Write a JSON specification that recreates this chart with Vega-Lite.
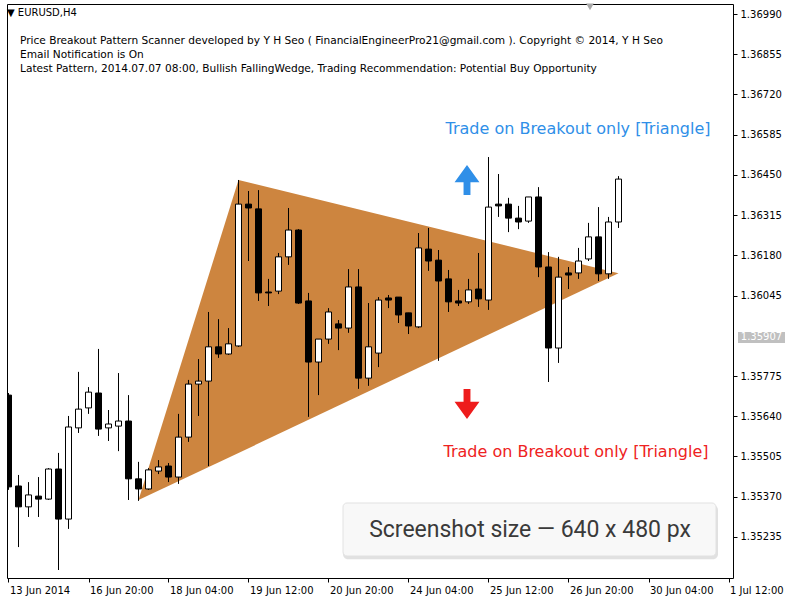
{
  "$schema": "https://vega.github.io/schema/vega-lite/v6.json",
  "width": 726,
  "height": 574,
  "autosize": "none",
  "padding": {"left": 7, "top": 4, "right": 67, "bottom": 22},
  "background": "white",
  "config": {
    "view": {"stroke": "black", "strokeWidth": 1},
    "axis": {"labelFont": "DejaVu Sans", "labelFontSize": 10, "labelColor": "black", "tickColor": "black", "domain": false, "grid": false}
  },
  "datasets": {
    "candles": [
      {"i":0,"o":1.35711,"h":1.35718,"l":1.35393,"c":1.35403},
      {"i":1,"o":1.35406,"h":1.35443,"l":1.35201,"c":1.35336},
      {"i":2,"o":1.35336,"h":1.35419,"l":1.35302,"c":1.35376},
      {"i":3,"o":1.35372,"h":1.35436,"l":1.35302,"c":1.35362},
      {"i":4,"o":1.35362,"h":1.35466,"l":1.35359,"c":1.35463},
      {"i":5,"o":1.35463,"h":1.35517,"l":1.35124,"c":1.35295},
      {"i":6,"o":1.35295,"h":1.35641,"l":1.35262,"c":1.35604},
      {"i":7,"o":1.35601,"h":1.35789,"l":1.35584,"c":1.35664},
      {"i":8,"o":1.35668,"h":1.35738,"l":1.35648,"c":1.35721},
      {"i":9,"o":1.35718,"h":1.35866,"l":1.35574,"c":1.35597},
      {"i":10,"o":1.35601,"h":1.35661,"l":1.35557,"c":1.35614},
      {"i":11,"o":1.35607,"h":1.35785,"l":1.35523,"c":1.35624},
      {"i":12,"o":1.35624,"h":1.35711,"l":1.35359,"c":1.35430},
      {"i":13,"o":1.35430,"h":1.35487,"l":1.35356,"c":1.35396},
      {"i":14,"o":1.35396,"h":1.35466,"l":1.35393,"c":1.35460},
      {"i":15,"o":1.35456,"h":1.35493,"l":1.35446,"c":1.35470},
      {"i":16,"o":1.35473,"h":1.35483,"l":1.35419,"c":1.35436},
      {"i":17,"o":1.35436,"h":1.35648,"l":1.35413,"c":1.35570},
      {"i":18,"o":1.35570,"h":1.35762,"l":1.35554,"c":1.35748},
      {"i":19,"o":1.35748,"h":1.35832,"l":1.35641,"c":1.35758},
      {"i":20,"o":1.35758,"h":1.35990,"l":1.35473,"c":1.35873},
      {"i":21,"o":1.35873,"h":1.35966,"l":1.35836,"c":1.35849},
      {"i":22,"o":1.35849,"h":1.35936,"l":1.35846,"c":1.35883},
      {"i":23,"o":1.35876,"h":1.36433,"l":1.35873,"c":1.36352},
      {"i":24,"o":1.36352,"h":1.36396,"l":1.36161,"c":1.36339},
      {"i":25,"o":1.36336,"h":1.36399,"l":1.36027,"c":1.36054},
      {"i":26,"o":1.36057,"h":1.36101,"l":1.36010,"c":1.36054},
      {"i":27,"o":1.36060,"h":1.36188,"l":1.36050,"c":1.36175},
      {"i":28,"o":1.36175,"h":1.36339,"l":1.36148,"c":1.36265},
      {"i":29,"o":1.36265,"h":1.36268,"l":1.36017,"c":1.36020},
      {"i":30,"o":1.36027,"h":1.36054,"l":1.35638,"c":1.35822},
      {"i":31,"o":1.35822,"h":1.35899,"l":1.35711,"c":1.35899},
      {"i":32,"o":1.35899,"h":1.36003,"l":1.35883,"c":1.35990},
      {"i":33,"o":1.35950,"h":1.35963,"l":1.35862,"c":1.35936},
      {"i":34,"o":1.35936,"h":1.36134,"l":1.35920,"c":1.36074},
      {"i":35,"o":1.36074,"h":1.36134,"l":1.35732,"c":1.35768},
      {"i":36,"o":1.35768,"h":1.36020,"l":1.35742,"c":1.35873},
      {"i":37,"o":1.35852,"h":1.36040,"l":1.35805,"c":1.36030},
      {"i":38,"o":1.36037,"h":1.36047,"l":1.36003,"c":1.36030},
      {"i":39,"o":1.36040,"h":1.36040,"l":1.35953,"c":1.35980},
      {"i":40,"o":1.35987,"h":1.35987,"l":1.35916,"c":1.35943},
      {"i":41,"o":1.35940,"h":1.36255,"l":1.35936,"c":1.36205},
      {"i":42,"o":1.36201,"h":1.36272,"l":1.36128,"c":1.36161},
      {"i":43,"o":1.36164,"h":1.36198,"l":1.35826,"c":1.36094},
      {"i":44,"o":1.36101,"h":1.36131,"l":1.35990,"c":1.36024},
      {"i":45,"o":1.36027,"h":1.36064,"l":1.36010,"c":1.36020},
      {"i":46,"o":1.36024,"h":1.36101,"l":1.36017,"c":1.36064},
      {"i":47,"o":1.36067,"h":1.36188,"l":1.36007,"c":1.36034},
      {"i":48,"o":1.36030,"h":1.36510,"l":1.35997,"c":1.36342},
      {"i":49,"o":1.36352,"h":1.36453,"l":1.36309,"c":1.36346},
      {"i":50,"o":1.36352,"h":1.36373,"l":1.36258,"c":1.36305},
      {"i":51,"o":1.36305,"h":1.36346,"l":1.36268,"c":1.36292},
      {"i":52,"o":1.36295,"h":1.36376,"l":1.36289,"c":1.36376},
      {"i":53,"o":1.36376,"h":1.36409,"l":1.36107,"c":1.36141},
      {"i":54,"o":1.36141,"h":1.36191,"l":1.35755,"c":1.35869},
      {"i":55,"o":1.35869,"h":1.36175,"l":1.35819,"c":1.36107},
      {"i":56,"o":1.36121,"h":1.36141,"l":1.36067,"c":1.36114},
      {"i":57,"o":1.36121,"h":1.36205,"l":1.36101,"c":1.36161},
      {"i":58,"o":1.36168,"h":1.36289,"l":1.36161,"c":1.36242},
      {"i":59,"o":1.36242,"h":1.36342,"l":1.36094,"c":1.36118},
      {"i":60,"o":1.36118,"h":1.36309,"l":1.36101,"c":1.36292},
      {"i":61,"o":1.36292,"h":1.36446,"l":1.36272,"c":1.36436}
    ],
    "triangle": [
      {"i":13,"top":1.35359,"bot":1.35359},
      {"i":23,"top":1.36433,"bot":1.35517},
      {"i":61,"top":1.36120,"bot":1.36120}
    ],
    "notes": [
      {"kind":"sym","tx":-0.15,"ty":1.36993,"label":"▼ EURUSD,H4"},
      {"kind":"info","tx":1.15,"ty":1.36899,"label":"Price Breakout Pattern Scanner developed by Y H Seo ( FinancialEngineerPro21@gmail.com ). Copyright © 2014, Y H Seo"},
      {"kind":"info","tx":1.15,"ty":1.36852,"label":"Email Notification is On"},
      {"kind":"info","tx":1.15,"ty":1.36805,"label":"Latest Pattern, 2014.07.07 08:00, Bullish FallingWedge, Trading Recommendation: Potential Buy Opportunity"},
      {"kind":"up","tx":56.95,"ty":1.36604,"label":"Trade on Breakout only [Triangle]"},
      {"kind":"down","tx":56.75,"ty":1.35520,"label":"Trade on Breakout only [Triangle]"},
      {"kind":"shot","tx":52.15,"ty":1.35258,"label":"Screenshot size — 640 x 480 px"},
      {"kind":"price","tx":75.3,"ty":1.35907,"label":"1.35907"}
    ],
    "arrows": [
      {"dir":"up","ax":45.85,"ay":1.36433},
      {"dir":"down","ax":45.85,"ay":1.35681}
    ],
    "boxes": [
      {"kind":"shadow","x1":33.45,"x2":70.95,"y1":1.35342,"y2":1.35160},
      {"kind":"shot","x1":33.45,"x2":70.75,"y1":1.35349,"y2":1.35171},
      {"kind":"price","x1":72.95,"x2":77.65,"y1":1.35923,"y2":1.35886}
    ],
    "marker": [{"mx":58.15,"my":1.37014}]
  },
  "layer": [
    {
      "data": {"name": "triangle"},
      "mark": {"type": "area", "color": "#CD853F", "opacity": 1, "clip": true},
      "encoding": {
        "x": {"field": "i", "type": "quantitative", "scale": {"domain": [-0.15, 72.45], "nice": false, "zero": false, "padding": 0},
          "axis": {"title": null, "values": [0,8,16,24,32,40,48,56,64,72], "labelExpr": "['13 Jun 2014','16 Jun 20:00','18 Jun 04:00','19 Jun 12:00','20 Jun 20:00','24 Jun 04:00','25 Jun 12:00','26 Jun 20:00','30 Jun 04:00','1 Jul 12:00'][round(datum.value/8)]", "labelAlign": "left", "labelBaseline": "top", "labelPadding": 3, "labelOffset": 1, "tickSize": 4, "labelFlush": false, "labelOverlap": false}},
        "y": {"field": "top", "type": "quantitative", "scale": {"domain": [1.350972, 1.370236], "nice": false, "zero": false},
          "axis": {"title": null, "orient": "right", "values": [1.3699,1.36855,1.3672,1.36585,1.3645,1.36315,1.3618,1.36045,1.35775,1.3564,1.35505,1.3537,1.35235], "format": ".5f", "tickSize": 4, "labelPadding": 3, "labelOverlap": false}},
        "y2": {"field": "bot"}
      }
    },
    {
      "mark": {"type": "rule", "color": "#c0c0c0", "strokeWidth": 1},
      "encoding": {
        "y": {"datum": 1.35907, "type": "quantitative", "axis": {"title": null}}
      }
    },
    {
      "data": {"name": "candles"},
      "mark": {"type": "rule", "color": "black", "strokeWidth": 1, "clip": true},
      "encoding": {
        "x": {"field": "i", "type": "quantitative", "axis": {"title": null}},
        "y": {"field": "l", "type": "quantitative", "axis": {"title": null}},
        "y2": {"field": "h"}
      }
    },
    {
      "data": {"name": "candles"},
      "mark": {"type": "bar", "width": 6, "stroke": "black", "strokeWidth": 1, "clip": true},
      "encoding": {
        "x": {"field": "i", "type": "quantitative", "axis": {"title": null}},
        "y": {"field": "o", "type": "quantitative", "axis": {"title": null}},
        "y2": {"field": "c"},
        "fill": {"condition": {"test": "datum.c < datum.o", "value": "black"}, "value": "white"}
      }
    },
    {
      "data": {"name": "boxes"},
      "transform": [{"filter": "datum.kind == 'shadow'"}],
      "mark": {"type": "rect", "fill": "#d4d4d4", "opacity": 0.7, "cornerRadius": 5},
      "encoding": {
        "x": {"field": "x1", "type": "quantitative", "axis": {"title": null}},
        "x2": {"field": "x2"},
        "y": {"field": "y1", "type": "quantitative", "axis": {"title": null}},
        "y2": {"field": "y2"}
      }
    },
    {
      "data": {"name": "boxes"},
      "transform": [{"filter": "datum.kind == 'shot'"}],
      "mark": {"type": "rect", "fill": "#f8f8f8", "stroke": "#e2e2e2", "strokeWidth": 1, "cornerRadius": 4},
      "encoding": {
        "x": {"field": "x1", "type": "quantitative", "axis": {"title": null}},
        "x2": {"field": "x2"},
        "y": {"field": "y1", "type": "quantitative", "axis": {"title": null}},
        "y2": {"field": "y2"}
      }
    },
    {
      "data": {"name": "boxes"},
      "transform": [{"filter": "datum.kind == 'price'"}],
      "mark": {"type": "rect", "fill": "#c0c0c0", "clip": false},
      "encoding": {
        "x": {"field": "x1", "type": "quantitative", "axis": {"title": null}},
        "x2": {"field": "x2"},
        "y": {"field": "y1", "type": "quantitative", "axis": {"title": null}},
        "y2": {"field": "y2"}
      }
    },
    {
      "data": {"name": "notes"},
      "transform": [{"filter": "datum.kind == 'sym'"}],
      "mark": {"type": "text", "align": "left", "baseline": "middle", "font": "DejaVu Sans", "fontSize": 10, "color": "black"},
      "encoding": {
        "x": {"field": "tx", "type": "quantitative", "axis": {"title": null}},
        "y": {"field": "ty", "type": "quantitative", "axis": {"title": null}},
        "text": {"field": "label"}
      }
    },
    {
      "data": {"name": "notes"},
      "transform": [{"filter": "datum.kind == 'info'"}],
      "mark": {"type": "text", "align": "left", "baseline": "middle", "font": "DejaVu Sans", "fontSize": 10.6, "color": "black"},
      "encoding": {
        "x": {"field": "tx", "type": "quantitative", "axis": {"title": null}},
        "y": {"field": "ty", "type": "quantitative", "axis": {"title": null}},
        "text": {"field": "label"}
      }
    },
    {
      "data": {"name": "notes"},
      "transform": [{"filter": "datum.kind == 'up'"}],
      "mark": {"type": "text", "align": "center", "baseline": "middle", "font": "DejaVu Sans", "fontSize": 16, "color": "#2f8fe8"},
      "encoding": {
        "x": {"field": "tx", "type": "quantitative", "axis": {"title": null}},
        "y": {"field": "ty", "type": "quantitative", "axis": {"title": null}},
        "text": {"field": "label"}
      }
    },
    {
      "data": {"name": "notes"},
      "transform": [{"filter": "datum.kind == 'down'"}],
      "mark": {"type": "text", "align": "center", "baseline": "middle", "font": "DejaVu Sans", "fontSize": 16, "color": "#ee2222"},
      "encoding": {
        "x": {"field": "tx", "type": "quantitative", "axis": {"title": null}},
        "y": {"field": "ty", "type": "quantitative", "axis": {"title": null}},
        "text": {"field": "label"}
      }
    },
    {
      "data": {"name": "notes"},
      "transform": [{"filter": "datum.kind == 'shot'"}],
      "mark": {"type": "text", "align": "center", "baseline": "middle", "font": "Roboto", "fontSize": 23, "color": "#3a3a3a"},
      "encoding": {
        "x": {"field": "tx", "type": "quantitative", "axis": {"title": null}},
        "y": {"field": "ty", "type": "quantitative", "axis": {"title": null}},
        "text": {"field": "label"}
      }
    },
    {
      "data": {"name": "notes"},
      "transform": [{"filter": "datum.kind == 'price'"}],
      "mark": {"type": "text", "align": "center", "baseline": "middle", "font": "DejaVu Sans", "fontSize": 10, "color": "white", "clip": false},
      "encoding": {
        "x": {"field": "tx", "type": "quantitative", "axis": {"title": null}},
        "y": {"field": "ty", "type": "quantitative", "axis": {"title": null}},
        "text": {"field": "label"}
      }
    },
    {
      "data": {"name": "arrows"},
      "transform": [{"filter": "datum.dir == 'up'"}],
      "mark": {"type": "point", "filled": true, "opacity": 1, "size": 900, "color": "#2f8fe8", "shape": "M0,-1L0.83,0.15L0.23,0.15L0.23,1L-0.23,1L-0.23,0.15L-0.83,0.15Z"},
      "encoding": {
        "x": {"field": "ax", "type": "quantitative", "axis": {"title": null}},
        "y": {"field": "ay", "type": "quantitative", "axis": {"title": null}}
      }
    },
    {
      "data": {"name": "arrows"},
      "transform": [{"filter": "datum.dir == 'down'"}],
      "mark": {"type": "point", "filled": true, "opacity": 1, "size": 900, "color": "#ee1c1c", "shape": "M0,1L0.83,-0.15L0.23,-0.15L0.23,-1L-0.23,-1L-0.23,-0.15L-0.83,-0.15Z"},
      "encoding": {
        "x": {"field": "ax", "type": "quantitative", "axis": {"title": null}},
        "y": {"field": "ay", "type": "quantitative", "axis": {"title": null}}
      }
    },
    {
      "data": {"name": "marker"},
      "mark": {"type": "point", "shape": "triangle-down", "filled": true, "opacity": 1, "size": 60, "color": "#a8a8a8"},
      "encoding": {
        "x": {"field": "mx", "type": "quantitative", "axis": {"title": null}},
        "y": {"field": "my", "type": "quantitative", "axis": {"title": null}}
      }
    }
  ]
}
